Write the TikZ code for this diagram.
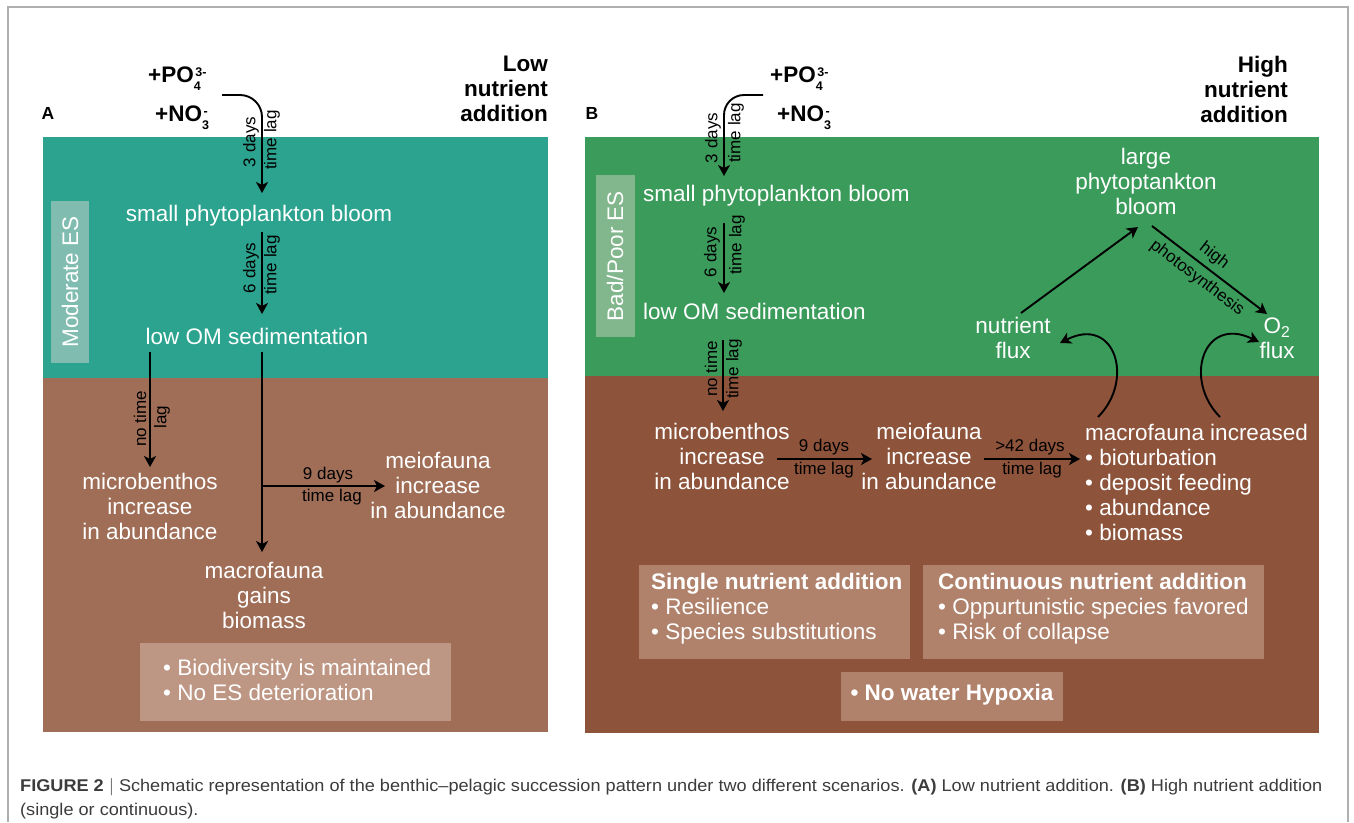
\documentclass[tikz,border=0pt]{standalone}
\usepackage{fontspec}
\usepackage{graphicx}
\setmainfont{Liberation Sans}
\usetikzlibrary{arrows.meta}
\definecolor{tealA}{RGB}{44,163,142}
\definecolor{brownA}{RGB}{160,110,87}
\definecolor{esA}{RGB}{128,189,176}
\definecolor{boxA}{RGB}{190,150,132}
\definecolor{greenB}{RGB}{59,155,91}
\definecolor{brownB}{RGB}{141,83,59}
\definecolor{esB}{RGB}{130,182,140}
\definecolor{boxB}{RGB}{176,130,108}
\definecolor{capgray}{RGB}{60,60,60}
\definecolor{framegray}{RGB}{175,175,175}
\newcommand\chemsubsup[2]{\makebox[0pt][l]{\raisebox{-8pt}{\fontsize{12.5}{12.5}\selectfont #1}}\raisebox{6pt}{\fontsize{12.5}{12.5}\selectfont\kern1.5pt #2}}
\begin{document}
\begin{tikzpicture}[x=1pt,y=-1pt,
  lbl/.style={text=white, font=\fontsize{22.5}{25}\selectfont, inner sep=0pt, align=center},
  arr/.style={line width=1.9pt, -{Stealth[length=11pt,width=12pt,inset=3pt]}},
  tl/.style={font=\fontsize{17}{19}\selectfont, inner sep=0pt},
  hdr/.style={font=\bfseries\fontsize{22.5}{25}\selectfont, align=right, inner sep=0pt},
  chem/.style={font=\bfseries\fontsize{22.5}{25}\selectfont, inner sep=0pt},
  letter/.style={font=\bfseries\fontsize{17.5}{17.5}\selectfont, inner sep=0pt},
]
\useasboundingbox (0,0) rectangle (1354,822);
\fill[white] (0,0) rectangle (1354,822);
\draw[framegray, line width=1.1pt] (8,822) -- (8,7) -- (1348,7) -- (1348,822);

% ---------------- Panel A ----------------
\fill[tealA] (43,137) rectangle (548,378);
\fill[brownA] (43,378) rectangle (548,732);
\fill[esA] (51,201) rectangle (89,363);
\fill[boxA] (140,643) rectangle (451,721);

\node[letter] (labA) at (48,113) {A};
\node[chem, anchor=base west] (poA) at (148,82) {+PO\chemsubsup{4}{3-}};
\node[chem, anchor=base west] (noA) at (155,121) {+NO\chemsubsup{3}{-}};
\node[hdr, anchor=east] (hdrA) at (548,89) {Low\\nutrient\\addition};

\node[lbl, rotate=90] (esa) at (70,282) {Moderate ES};
\node[lbl] (bloomA) at (259,216) {small phytoplankton bloom};
\node[lbl] (omA) at (257,336) {low OM sedimentation};
\node[lbl] (microA) at (150,506) {microbenthos\\increase\\in abundance};
\node[lbl] (meioA) at (438,485) {meiofauna\\increase\\in abundance};
\node[lbl] (macroA) at (264,595) {macrofauna\\gains\\biomass};
\node[lbl, align=left, anchor=west] (okA) at (163,680) {• Biodiversity is maintained\\• No ES deterioration};

\coordinate (a0) at (222,95);
\coordinate (a1) at (262,193);
\coordinate (a2) at (262,232);
\coordinate (a3) at (262,314);
\coordinate (a4) at (150,352);
\coordinate (a5) at (150,467);
\coordinate (a6) at (262,352);
\coordinate (a7) at (262,552);
\coordinate (a8) at (262,486);
\coordinate (a9) at (385,486);

\draw[arr, rounded corners=22pt] (a0) -- (a0 -| a1) -- (a1);
\draw[arr] (a2) -- (a3);
\draw[arr] (a4) -- (a5);
\draw[arr] (a6) -- (a7);
\draw[arr] (a8) -- (a9);

\node[tl, rotate=90] (d3A) at (251,142) {3 days};
\node[tl, rotate=90] (t3A) at (272,140) {time lag};
\node[tl, rotate=90] (d6A) at (251,268) {6 days};
\node[tl, rotate=90] (t6A) at (272,265) {time lag};
\node[tl, rotate=90] (n0A) at (140,419) {no time};
\node[tl, rotate=90] (l0A) at (162,417) {lag};
\node[tl] (d9A) at (328,475) {9 days};
\node[tl] (t9A) at (332,497) {time lag};

% ---------------- Panel B ----------------
\fill[greenB] (585,137) rectangle (1319,376);
\fill[brownB] (585,376) rectangle (1319,733);
\fill[esB] (596,175) rectangle (635,337);
\fill[boxB] (639,565) rectangle (910,659);
\fill[boxB] (923,565) rectangle (1264,659);
\fill[boxB] (841,672) rectangle (1063,721);

\node[letter] (labB) at (592,113) {B};
\node[chem, anchor=base west] (poB) at (770,82) {+PO\chemsubsup{4}{3-}};
\node[chem, anchor=base west] (noB) at (777,121) {+NO\chemsubsup{3}{-}};
\node[hdr, anchor=east] (hdrB) at (1288,89) {High\\nutrient\\addition};

\node[lbl, rotate=90] (esb) at (615,256) {Bad/Poor ES};
\node[lbl, anchor=west] (bloomB) at (643,196) {small phytoplankton bloom};
\node[lbl, anchor=west] (omB) at (643,311) {low OM sedimentation};
\node[lbl] (microB) at (722,456) {microbenthos\\increase\\in abundance};
\node[lbl] (meioB) at (929,456) {meiofauna\\increase\\in abundance};
\node[lbl, align=left, anchor=west] (macroB) at (1085,482) {macrofauna increased\\• bioturbation\\• deposit feeding\\• abundance\\• biomass};
\node[lbl] (largeB) at (1146,181) {large\\phytoptankton\\bloom};
\node[lbl] (nfluxB) at (1013,338) {nutrient\\flux};
\node[lbl] (ofluxB) at (1277,338) {O\textsubscript{2}\\flux};

\node[lbl, align=left, anchor=west] (singleB) at (651,609) {\textbf{Single nutrient addition}\\• Resilience\\• Species substitutions};
\node[lbl, align=left, anchor=west] (contB) at (938,609) {\textbf{Continuous nutrient addition}\\• Oppurtunistic species favored\\• Risk of collapse};
\node[lbl, font=\bfseries\fontsize{22.5}{25}\selectfont] (hypB) at (952,695) {• No water Hypoxia};

\coordinate (b0) at (763,95);
\coordinate (b1) at (724,176);
\coordinate (b2) at (724,223);
\coordinate (b3) at (724,293);
\coordinate (b4) at (723,340);
\coordinate (b5) at (723,411);
\coordinate (b6) at (777,459);
\coordinate (b7) at (872,459);
\coordinate (b8) at (984,459);
\coordinate (b9) at (1080,459);
\coordinate (c0) at (1021,313);
\coordinate (c1) at (1138,227);
\coordinate (c2) at (1152,226);
\coordinate (c3) at (1267,314);
\coordinate (c4) at (1098,417);
\coordinate (c5) at (1060,343);
\coordinate (c6) at (1220,417);
\coordinate (c7) at (1259,342);

\draw[arr, rounded corners=20pt] (b0) -- (b0 -| b1) -- (b1);
\draw[arr] (b2) -- (b3);
\draw[arr] (b4) -- (b5);
\draw[arr] (b6) -- (b7);
\draw[arr] (b8) -- (b9);
\draw[arr] (c0) -- (c1);
\draw[arr] (c2) -- (c3);
\draw[arr] (c4) .. controls (1135,380) and (1115,315) .. (c5);
\draw[arr] (c6) .. controls (1183,380) and (1203,315) .. (c7);

\node[tl, rotate=90] (d3B) at (713,138) {3 days};
\node[tl, rotate=90] (t3B) at (736,133) {time lag};
\node[tl, rotate=90] (d6B) at (712,252) {6 days};
\node[tl, rotate=90] (t6B) at (737,245) {time lag};
\node[tl, rotate=90] (n0B) at (711,369) {no time};
\node[tl, rotate=90] (l0B) at (734,369) {time lag};
\node[tl] (d9B) at (824,447) {9 days};
\node[tl] (t9B) at (824,470) {time lag};
\node[tl] (d42B) at (1030,447) {>42 days};
\node[tl] (t42B) at (1032,470) {time lag};
\node[tl, rotate=-37.4] (hiB) at (1214,256) {high};
\node[tl, rotate=-37.4] (phB) at (1197,278) {photosynthesis};

% ---------------- Caption ----------------
\node[anchor=north west, inner sep=0pt, text=capgray, font=\fontsize{17}{24}\selectfont] (cap) at (20,774)
 {\resizebox{1302pt}{\height}{\begin{tabular}{@{}l@{}}\textbf{FIGURE 2} $|$ Schematic representation of the benthic–pelagic succession pattern under two different scenarios. \textbf{(A)} Low nutrient addition. \textbf{(B)} High nutrient addition\\(single or continuous).\end{tabular}}};
\end{tikzpicture}
\end{document}
